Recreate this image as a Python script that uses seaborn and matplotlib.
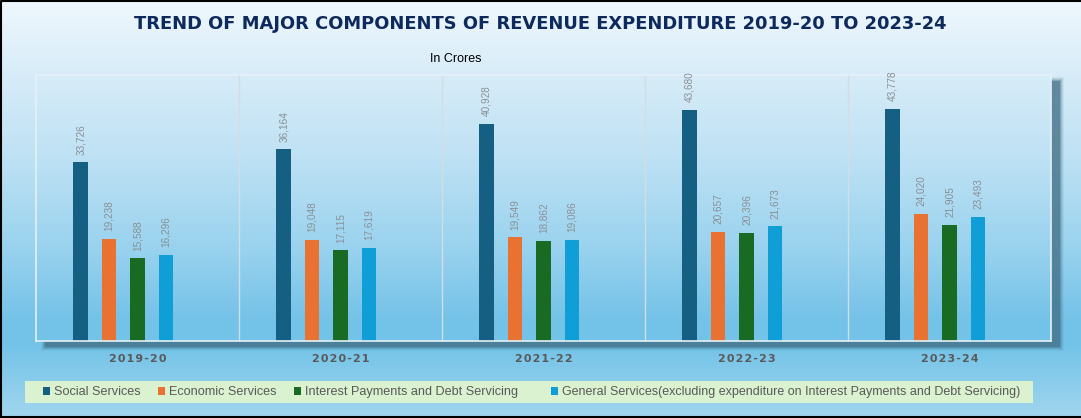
import numpy as np
import pandas as pd
import matplotlib
matplotlib.use("Agg")
import matplotlib.pyplot as plt
from matplotlib.colors import to_rgb
from matplotlib.patches import Rectangle, Patch
import seaborn as sns

# ---------------- data ----------------
years = ["2019-20", "2020-21", "2021-22", "2022-23", "2023-24"]
social = [33726, 36164, 40928, 43680, 43778]
economic = [19238, 19048, 19549, 20657, 24020]
interest = [15588, 17115, 18862, 20396, 21905]
general = [16296, 17619, 19086, 21673, 23493]
series_names = [
    "Social Services",
    "Economic Services",
    "Interest Payments and Debt Servicing",
    "General Services(excluding expenditure on Interest Payments and Debt Servicing)",
]
title = "TREND OF MAJOR COMPONENTS OF REVENUE EXPENDITURE 2019-20 TO 2023-24"
subtitle = "In Crores"

colors = ["#156082", "#E97132", "#196B24", "#0F9ED5"]

rows = []
for name, vals in zip(series_names, [social, economic, interest, general]):
    for y, v in zip(years, vals):
        rows.append({"Year": y, "Series": name, "Value": v})
df = pd.DataFrame(rows)

# ---------------- figure ----------------
sns.set_theme(style="white")
plt.rcParams["font.family"] = ["Liberation Sans", "DejaVu Sans"]

W, H = 1081, 418
fig = plt.figure(figsize=(W / 100, H / 100), dpi=100)

# background gradient axes in pixel coordinates
bg = fig.add_axes([0, 0, 1, 1], zorder=0)
bg.axis("off")

stops = [(0, "#eff7fd"), (75, "#d7ecf8"), (160, "#bde1f4"),
         (250, "#98d2ee"), (320, "#74c2e8"), (345, "#73c3e8"), (418, "#a2d6ee")]
ys = np.arange(H)
sy = [s[0] for s in stops]
cols = np.array([to_rgb(s[1]) for s in stops])
grad = np.stack([np.interp(ys, sy, cols[:, k]) for k in range(3)], axis=1)
img = np.repeat(grad[:, None, :], 4, axis=1)
bg.imshow(img, extent=[0, W, H, 0], aspect="auto", interpolation="bilinear", zorder=0)

# plot area in pixels
L, R, T, B = 36, 1051, 75, 341

# drop shadow
for i, a in enumerate([0.08, 0.12, 0.18, 0.30, 0.50]):
    grow = 4 - i
    bg.add_patch(Rectangle((L + 9 - grow, T + 6 - grow), (R - L) + 2 * grow, (B - T) + 2 * grow,
                           facecolor="#3f6e84", edgecolor="none", alpha=a, zorder=1))
# redraw gradient inside plot area
bg.imshow(img[T:B], extent=[L, R, B, T], aspect="auto", interpolation="bilinear", zorder=2)
bg.set_xlim(0, W)
bg.set_ylim(H, 0)

# legend box
bg.add_patch(Rectangle((25, 381), 1008, 22, facecolor="#daf2d0", edgecolor="none", zorder=3))
# figure border
bg.plot([0.5, 0.5, W], [H - 0.5, 0.5, 0.5], color="black", lw=1.5, zorder=5)
bg.plot([0, W], [H - 0.75, H - 0.75], color="black", lw=1.5, zorder=5)

# main axes
ax = fig.add_axes([L / W, 1 - B / H, (R - L) / W, (B - T) / H], zorder=2)
ax.patch.set_alpha(0)

sns.barplot(data=df, x="Year", y="Value", hue="Series",
            hue_order=series_names + ["_spacer"],
            palette=colors + ["#ffffff"],
            width=0.70, gap=0.48, legend=False, ax=ax, saturation=1,
            linewidth=0, edgecolor="none")

for cont in ax.containers:
    ax.bar_label(cont, labels=[f"{v:,.0f}" for v in cont.datavalues],
                 rotation=90, padding=5.5, fontsize=7.2, color="#8a9095")

ax.set_xlim(-0.5, len(years) - 0.5)
ax.set_ylim(0, 50200)
ax.set_xlabel("")
ax.set_ylabel("")
ax.set_yticks([])
for xb in np.arange(0.5, len(years) - 0.5, 1):
    ax.axvline(xb, color="#d3dde2", lw=1, zorder=0)
for s in ax.spines.values():
    s.set_color("#e4f1f8")
    s.set_linewidth(1.2)
    s.set_visible(True)

spaced = ["\u200a".join(list(y)) for y in years]
ax.set_xticks(range(len(years)))
ax.set_xticklabels(spaced, fontsize=7.9, fontweight="bold", color="#595959",
                   family=["DejaVu Sans"])
ax.tick_params(axis="x", length=0, pad=9)

# titles
fig.text(0.5, 1 - 24 / H, title, ha="center", va="center", fontsize=12.9,
         fontweight="bold", color="#0e2a5c", family=["DejaVu Sans"])
fig.text(456 / W, 1 - 59 / H, subtitle, ha="center", va="center", fontsize=9, color="black")

# legend (two pieces to match the uneven spacing of the original)
handles = [Patch(facecolor=c, edgecolor="none") for c in colors]
leg_kw = dict(frameon=False, handlelength=0.6, handleheight=0.6,
              handletextpad=0.3, columnspacing=1.35, borderpad=0.2)
leg1 = fig.legend(handles[:3], series_names[:3], loc="center left",
                  bbox_to_anchor=(34 / W, 1 - 392 / H), ncol=3, fontsize=9.1, **leg_kw)
leg2 = fig.legend(handles[3:], series_names[3:], loc="center left",
                  bbox_to_anchor=(542 / W, 1 - 392 / H), ncol=1, fontsize=9.0, **leg_kw)
for lg in (leg1, leg2):
    for t in lg.get_texts():
        t.set_color("#595959")

fig.savefig("out.png", dpi=100)
